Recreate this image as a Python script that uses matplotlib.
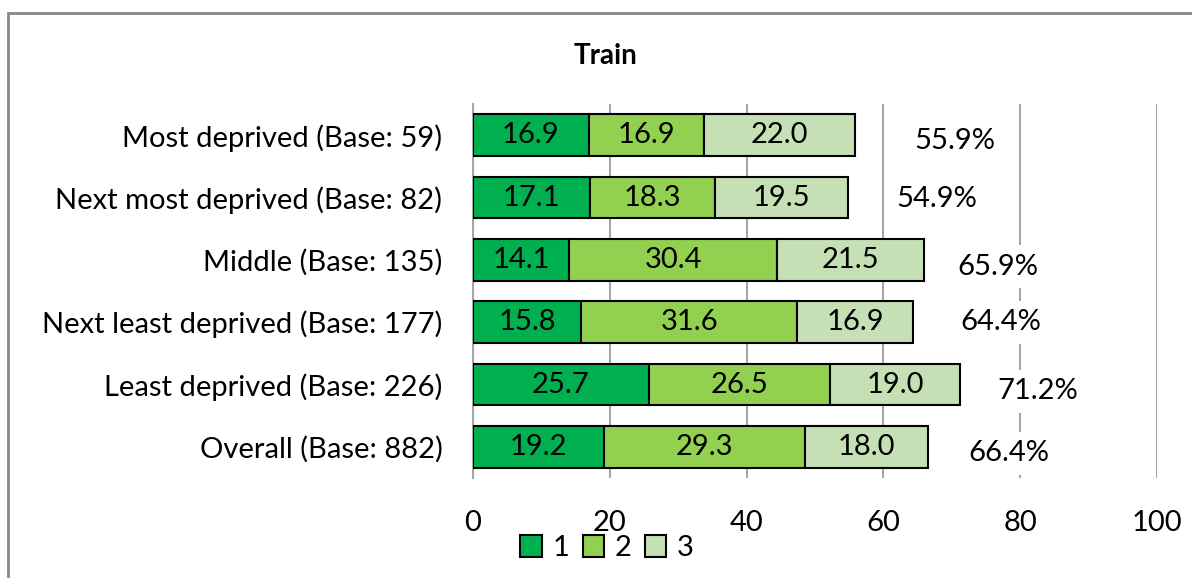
import matplotlib.pyplot as plt
from matplotlib.patches import Rectangle
import numpy as np

plt.rcParams['font.family'] = ['Lato', 'DejaVu Sans']

categories = ['Most deprived (Base: 59)', 'Next most deprived (Base: 82)',
              'Middle (Base: 135)', 'Next least deprived (Base: 177)',
              'Least deprived (Base: 226)', 'Overall (Base: 882)']
s1 = [16.9, 17.1, 14.1, 15.8, 25.7, 19.2]
s2 = [16.9, 18.3, 30.4, 31.6, 26.5, 29.3]
s3 = [22.0, 19.5, 21.5, 16.9, 19.0, 18.0]
totals = ['55.9%', '54.9%', '65.9%', '64.4%', '71.2%', '66.4%']
series_names = ['1', '2', '3']
colors = ['#00B050', '#92D050', '#C5E0B4']

# label placement (offsets from the bar end, in data units / rows)
lab_dx = [14.6, 12.9, 10.7, 12.9, 11.3, 11.8]
lab_dy = [0.10, 0.02, 0.11, 0.0, 0.11, 0.10]

fs = 21

fig = plt.figure(figsize=(11.92, 5.78), dpi=100)
ax = fig.add_axes([0.3968, 0.173, 0.5738, 0.647])

y = np.arange(len(categories))
left = np.zeros(len(categories))
for vals, name, col in zip([s1, s2, s3], series_names, colors):
    bars = ax.barh(y, vals, left=left, height=0.67, color=col, edgecolor='black',
                   linewidth=1.5, label=name, zorder=3)
    ax.bar_label(bars, labels=[f'{v:.1f}' for v in vals], label_type='center',
                 fontsize=fs, color='black')
    left = left + np.array(vals)

for i, t in enumerate(totals):
    ax.text(left[i] + lab_dx[i], y[i] + lab_dy[i], t, ha='center', va='center',
            fontsize=fs, zorder=4,
            bbox=dict(facecolor='white', edgecolor='none', pad=6))

ax.set_xlim(0, 100)
ax.set_ylim(-0.5, len(categories) - 0.5)
ax.invert_yaxis()
ax.set_xticks([0, 20, 40, 60, 80, 100])
ax.set_yticks(y)
ax.set_yticklabels(categories)
ax.tick_params(axis='y', length=0, pad=22, labelsize=fs)
ax.tick_params(axis='x', length=0, pad=23, labelsize=fs)
ax.xaxis.grid(True, color='#A6A6A6', linewidth=1.5, zorder=0)
ax.set_axisbelow(True)
for s in ['top', 'right', 'bottom']:
    ax.spines[s].set_visible(False)
ax.spines['left'].set_color('#A6A6A6')
ax.spines['left'].set_linewidth(1.5)

fig.text(606 / 1192, 1 - 56 / 578, 'Train', ha='center', va='center',
         fontsize=20, fontweight='bold')

leg = fig.legend(loc='center', bbox_to_anchor=(607 / 1192, 1 - 548 / 578), ncol=3,
                 frameon=False, fontsize=fs, handlelength=0.75, handleheight=0.75,
                 handletextpad=0.35, columnspacing=0.45)

fig.patches.append(Rectangle((8 / 1192, -0.1), 1.2, 1.1 - 13 / 578,
                             transform=fig.transFigure, fill=False,
                             edgecolor='#888888', linewidth=2))

fig.savefig('out.png', dpi=100)
